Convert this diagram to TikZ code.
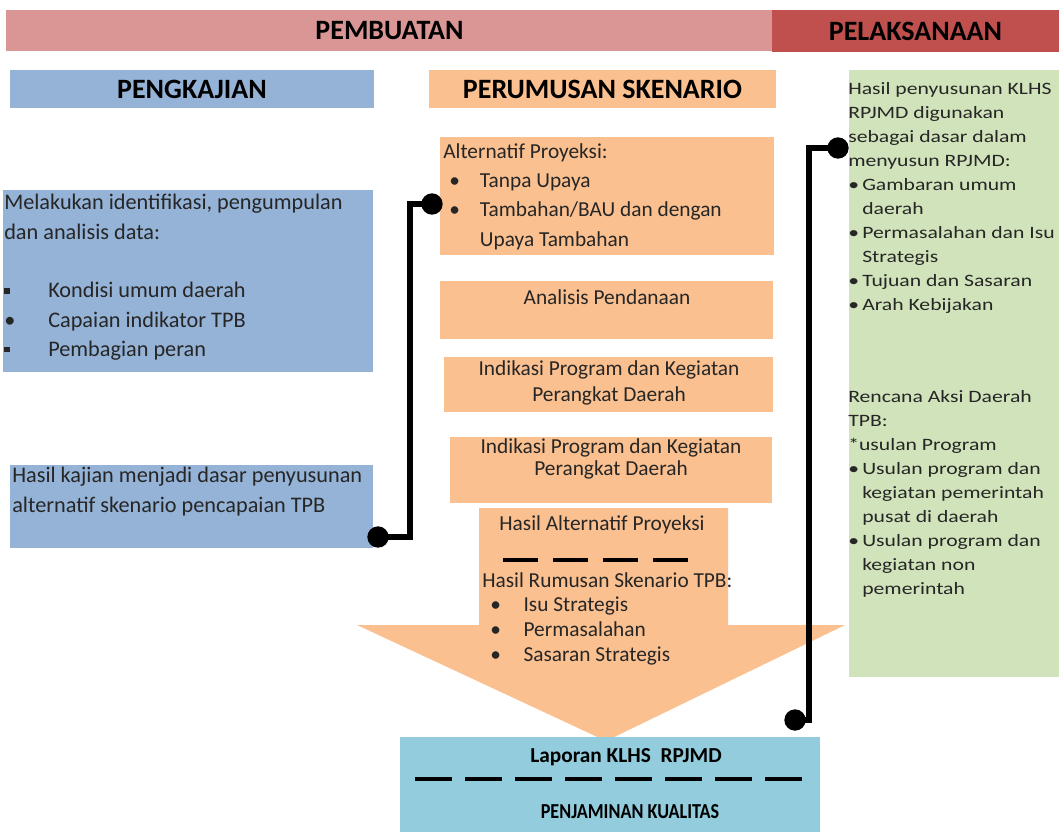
\documentclass[tikz,border=0pt]{standalone}
\usepackage{fontspec}
\setmainfont{Carlito}
\newfontfamily\widefont{Carlito}[FakeStretch=1.25]
\newfontfamily\narrowfont{Carlito}[FakeStretch=0.85]
\usetikzlibrary{positioning}
\definecolor{barred}{RGB}{217,150,148}
\definecolor{darkred}{RGB}{192,80,77}
\definecolor{kajianblue}{RGB}{149,179,215}
\definecolor{skenorange}{RGB}{250,192,144}
\definecolor{lakgreen}{RGB}{208,227,186}
\definecolor{lapcyan}{RGB}{147,205,221}
\newcommand{\bul}[1]{\makebox[#1][l]{\textbullet}}
\newcommand{\sqbul}[1]{\makebox[#1][l]{\rule[3pt]{4pt}{4pt}}}
\begin{document}
\begin{tikzpicture}[x=0.75pt,y=-0.75pt,
 bar/.style={inner sep=0pt,font=\fontsize{21}{25}\selectfont\bfseries},
 panel/.style={inner sep=0pt},
 body/.style={inner sep=0pt,align=left,text=black!85,font=\fontsize{16}{22}\selectfont},
 small/.style={inner sep=0pt,align=left,text=black!85,font=\widefont\fontsize{13}{18}\selectfont},
 dot/.style={circle,fill=black,inner sep=0pt,minimum size=16pt},
 link/.style={line width=4.5pt,draw=black}]
\useasboundingbox (0,0) rectangle (1059,832);
% title bars
\node[bar,fill=barred,minimum width=575.25pt,minimum height=30.75pt] (pembuatan) at (389.5,30.5) {PEMBUATAN};
\node[bar,fill=darkred,minimum width=215.25pt,minimum height=31.5pt] (pelaksanaan) at (915.5,31) {PELAKSANAAN};
\node[bar,fill=kajianblue,minimum width=273pt,minimum height=29pt] (pengkajian) at (192,89) {PENGKAJIAN};
\node[bar,fill=skenorange,minimum width=260pt,minimum height=29pt] (perumusan) at (602.5,89) {PERUMUSAN SKENARIO};
% pengkajian column
\node[panel,fill=kajianblue,minimum width=277.5pt,minimum height=136.5pt] (identifikasi) at (188,281) {};
\node[body,anchor=north west,font=\fontsize{16.7}{22}\selectfont] (identxt) at (4,194) {Melakukan identifikasi, pengumpulan\\
dan analisis data:\\[22pt]
\sqbul{33pt}Kondisi umum daerah\\
\bul{33pt}Capaian indikator TPB\\
\sqbul{33pt}Pembagian peran};
\node[panel,fill=kajianblue,minimum width=272.25pt,minimum height=62.25pt] (hasilkajian) at (191.5,506) {};
\node[body,anchor=north west,font=\fontsize{16.7}{22.5}\selectfont] (kajiantxt) at (12,467) {Hasil kajian menjadi dasar penyusunan\\
alternatif skenario pencapaian TPB};
% perumusan skenario column
\node[panel,fill=skenorange,minimum width=250.5pt,minimum height=88.5pt] (alternatif) at (607,196) {};
\node[body,anchor=north west] (alttxt) at (443,143) {Alternatif Proyeksi:\\
\hspace*{4.5pt}\bul{23pt}Tanpa Upaya\\
\hspace*{4.5pt}\bul{23pt}Tambahan/BAU dan dengan\\
\hspace*{27.5pt}Upaya Tambahan};
\node[panel,fill=skenorange,minimum width=249.75pt,minimum height=43.5pt] (pendanaan) at (606.5,310) {};
\node[body] (pendtxt) at (607,297) {Analisis Pendanaan};
\node[panel,fill=skenorange,minimum width=246.75pt,minimum height=41.25pt] (indikasia) at (608.5,384.5) {};
\node[body,align=center,font=\fontsize{16}{20}\selectfont] at (609,383) {Indikasi Program dan Kegiatan\\Perangkat Daerah};
\node[panel,fill=skenorange,minimum width=241.5pt,minimum height=49.5pt] (indikasib) at (611,470) {};
\node[body,align=center,font=\fontsize{16}{16.5}\selectfont] at (611,459) {Indikasi Program dan Kegiatan\\Perangkat Daerah};
% big arrow down to the report
\fill[skenorange] (479,508) -- (728,508) -- (728,625) -- (845,625) -- (606,741) -- (357,625) -- (479,625) -- cycle;
\node[body] (hasilproy) at (602,525) {Hasil Alternatif Proyeksi};
\draw[line width=3pt,dash pattern=on 26.5pt off 11pt] (503,560) -- (690,560);
\node[body,anchor=north west,font=\fontsize{16}{18.5}\selectfont] (rumusan) at (482,572) {Hasil Rumusan Skenario TPB:\\
\hspace*{6pt}\bul{25pt}Isu Strategis\\
\hspace*{6pt}\bul{25pt}Permasalahan\\
\hspace*{6pt}\bul{25pt}Sasaran Strategis};
% report
\node[panel,fill=lapcyan,minimum width=315pt,minimum height=71.25pt] (laporan) at (610,784.5) {};
\node[bar,font=\fontsize{16}{19}\selectfont\bfseries] (laptxt) at (626,757) {Laporan KLHS~~RPJMD};
\draw[line width=3.5pt,dash pattern=on 27.75pt off 9.75pt] (415,779) -- (803,779);
\node[bar,font=\narrowfont\fontsize{16}{19}\selectfont\bfseries] (mutu) at (630,812) {PENJAMINAN KUALITAS};
% pelaksanaan column
\node[panel,fill=lakgreen,minimum width=157.5pt,minimum height=455.25pt] (pakai) at (953.5,373.5) {};
\node[small,anchor=north west] (pakaitxt) at (848,82) {Hasil penyusunan KLHS\\
RPJMD digunakan\\
sebagai dasar dalam\\
menyusun RPJMD:\\
\bul{10.5pt}Gambaran umum\\
\hspace*{10.5pt}daerah\\
\bul{10.5pt}Permasalahan dan Isu\\
\hspace*{10.5pt}Strategis\\
\bul{10.5pt}Tujuan dan Sasaran\\
\bul{10.5pt}Arah Kebijakan\\[51pt]
Rencana Aksi Daerah\\
TPB:\\
*usulan Program\\
\bul{10.5pt}Usulan program dan\\
\hspace*{10.5pt}kegiatan pemerintah\\
\hspace*{10.5pt}pusat di daerah\\
\bul{10.5pt}Usulan program dan\\
\hspace*{10.5pt}kegiatan non\\
\hspace*{10.5pt}pemerintah};
% connectors
\node[dot] (kajianend) at (378,537) {};
\node[dot] (altend) at (432,204) {};
\node[dot] (lapend) at (795,720) {};
\node[dot] (pakaiend) at (838,148) {};
\draw[link] (kajianend.center) -- ++(32,0) |- (altend.center);
\draw[link] (lapend.center) -- ++(14,0) |- (pakaiend.center);
\end{tikzpicture}
\end{document}
